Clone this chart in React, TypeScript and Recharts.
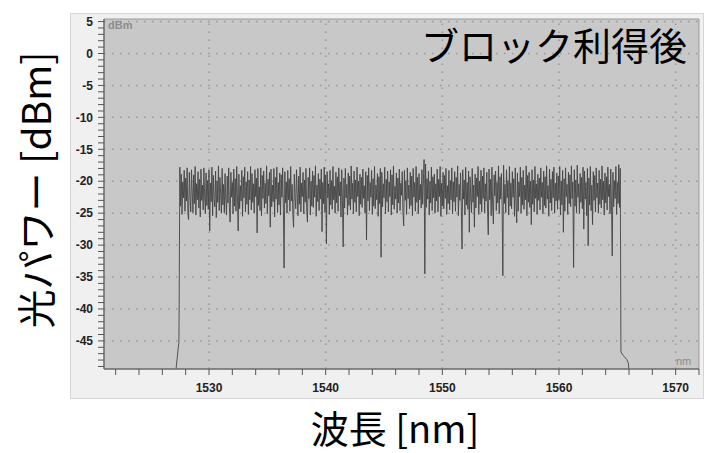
import React from "react";
import { LineChart, Line, XAxis, YAxis, CartesianGrid, ReferenceLine } from "recharts";

// ---- axis ticks / labels ----
const xMajorTicks = [1530, 1540, 1550, 1560, 1570];
const yMajorTicks = [5, 0, -5, -10, -15, -20, -25, -30, -35, -40, -45];
const xDomain: [number, number] = [1521, 1572];
const yDomain: [number, number] = [-49.4, 5.4];
const xMinorTicks = Array.from({ length: 26 }, (_, i) => 1522 + i * 2);
const yMinorTicks = Array.from({ length: 55 }, (_, i) => 5 - i);

// ---- spectrum (OSA trace) ----
const edgeLeftWl = [1527.17, 1527.37, 1527.42, 1527.44];
const edgeLeftDbm = [-49.5, -46.0, -45.3, -40.0];

const bodyStartWl = 1527.5;
const bodyStepWl = 0.0625;
const bodyDbm = [
  -17.8, -23.9, -18.9, -25.2, -20.1, -22.6, -18.3, -24.7, -19.5, -23.1, -17.9, -25.0, -26.0, -18.6, -22.4, -24.8,
  -18.2, -21.7, -24.9, -19.0, -23.5, -17.7, -25.3, -20.4, -22.9, -18.5, -24.2, -19.7, -25.6, -18.1, -23.0, -20.6,
  -24.5, -17.9, -22.3, -25.1, -18.7, -23.8, -19.9, -24.4, -18.2, -27.8, -20.3, -23.2, -17.8, -25.4, -19.1, -22.7,
  -24.0, -18.4, -25.7, -20.0, -23.3, -17.6, -24.6, -19.4, -22.1, -25.0, -18.0, -23.7, -20.5, -24.9, -18.8, -22.8,
  -25.3, -19.2, -23.4, -17.9, -24.1, -26.4, -18.6, -22.5, -20.2, -25.1, -18.1, -23.9, -19.6, -24.7, -17.7, -22.2,
  -27.8, -18.9, -24.3, -20.7, -23.1, -18.3, -25.5, -19.3, -22.6, -17.8, -24.8, -20.1, -23.6, -18.5, -25.2, -19.8,
  -22.9, -17.7, -24.5, -18.8, -23.3, -20.4, -25.0, -18.2, -22.4, -19.5, -28.1, -18.0, -23.8, -20.9, -24.6, -17.9,
  -25.4, -19.1, -22.7, -18.4, -24.2, -20.3, -23.5, -17.6, -25.1, -19.7, -22.3, -18.6, -27.2, -18.1, -24.0, -20.6,
  -23.2, -18.0, -25.6, -19.4, -22.8, -17.8, -24.9, -20.2, -23.7, -18.7, -25.3, -19.0, -22.5, -17.9, -24.4, -33.6,
  -18.5, -23.4, -20.1, -25.0, -18.3, -22.9, -19.6, -24.7, -17.7, -23.1, -20.5, -25.2, -27.2, -18.9, -22.6, -24.3,
  -18.2, -21.9, -25.4, -19.2, -23.6, -17.8, -24.8, -20.3, -22.4, -18.6, -25.1, -19.8, -23.3, -18.0, -24.5, -26.4,
  -19.4, -22.7, -17.9, -25.3, -20.0, -23.9, -18.4, -24.1, -19.1, -22.5, -17.6, -25.5, -20.6, -23.2, -18.8, -24.6,
  -19.7, -22.8, -18.1, -27.9, -20.2, -23.5, -17.8, -24.9, -19.0, -29.8, -18.5, -22.6, -20.4, -25.2, -18.3, -23.7,
  -19.9, -24.4, -17.7, -22.9, -20.8, -25.0, -18.6, -23.4, -19.3, -24.7, -17.9, -22.3, -20.1, -25.6, -18.2, -23.0,
  -30.3, -19.5, -24.2, -18.0, -22.6, -20.5, -25.3, -18.7, -23.8, -19.2, -24.5, -17.6, -22.8, -20.3, -25.1, -18.4,
  -23.3, -19.8, -24.8, -17.8, -22.4, -20.0, -25.4, -18.9, -23.6, -19.4, -24.1, -18.1, -22.7, -20.7, -25.0, -18.5,
  -29.2, -19.1, -23.1, -17.9, -24.6, -20.2, -22.5, -18.3, -25.2, -19.6, -23.9, -17.7, -24.3, -20.6, -22.9, -18.8,
  -25.5, -19.3, -23.5, -18.0, -31.9, -18.6, -24.0, -20.4, -22.6, -17.8, -25.1, -19.7, -23.2, -18.4, -24.8, -20.1,
  -22.4, -18.2, -25.3, -19.0, -23.7, -17.6, -24.4, -20.8, -22.8, -18.7, -25.0, -19.5, -23.4, -18.1, -24.6, -20.3,
  -22.2, -18.5, -24.9, -27.0, -18.3, -23.0, -19.9, -25.2, -17.9, -22.7, -20.6, -24.3, -18.6, -23.8, -19.2, -25.4,
  -18.0, -22.5, -20.2, -24.7, -17.7, -23.3, -19.4, -25.1, -18.8, -22.9, -20.5, -24.2, -18.2, -23.6, -19.8, -16.6,
  -34.5, -17.3, -24.1, -19.6, -22.8, -18.4, -25.3, -20.0, -23.4, -17.8, -24.6, -19.3, -22.6, -18.9, -25.0, -20.4,
  -23.1, -18.1, -24.8, -19.7, -22.4, -17.7, -25.5, -20.3, -23.9, -18.6, -24.3, -19.1, -22.7, -18.0, -25.2, -20.7,
  -23.5, -18.3, -24.5, -19.9, -22.9, -17.9, -25.1, -20.1, -23.2, -18.5, -24.7, -19.4, -22.5, -17.6, -25.4, -20.5,
  -23.0, -18.7, -24.0, -30.6, -18.2, -22.8, -19.8, -25.3, -17.8, -23.7, -20.2, -24.4, -18.4, -28.0, -19.3, -22.6,
  -24.9, -18.0, -23.3, -20.6, -27.2, -18.9, -24.2, -19.5, -22.4, -17.7, -25.2, -20.0, -23.6, -18.3, -24.8, -19.2,
  -22.7, -17.9, -25.0, -20.4, -23.1, -18.6, -24.5, -28.4, -18.1, -22.9, -19.7, -25.4, -17.8, -23.8, -26.7, -19.0,
  -22.3, -18.4, -24.6, -20.2, -23.4, -17.6, -25.1, -19.3, -22.8, -18.8, -24.0, -34.8, -17.5, -23.5, -20.5, -24.9,
  -18.2, -22.6, -19.9, -25.3, -17.7, -23.9, -20.3, -24.3, -18.5, -22.5, -19.6, -25.5, -17.9, -23.2, -26.5, -18.7,
  -24.7, -20.1, -22.4, -17.8, -25.0, -19.4, -23.7, -18.3, -24.4, -20.6, -22.9, -17.6, -25.4, -19.1, -23.3, -18.6,
  -24.1, -20.0, -26.8, -18.2, -23.6, -19.8, -24.8, -17.7, -22.7, -20.4, -25.2, -18.9, -23.0, -19.5, -24.5, -17.9,
  -22.5, -20.2, -25.1, -18.4, -23.8, -19.3, -24.2, -17.6, -22.8, -20.7, -25.5, -18.1, -23.4, -19.7, -24.6, -18.5,
  -22.6, -17.8, -25.0, -20.3, -23.1, -18.7, -24.4, -19.2, -22.9, -17.7, -25.3, -20.0, -23.7, -18.3, -28.0, -19.6,
  -24.7, -17.9, -22.4, -20.5, -25.2, -18.6, -23.5, -19.0, -24.0, -17.6, -22.7, -20.1, -33.5, -18.2, -23.9, -19.8,
  -24.9, -17.5, -22.5, -20.4, -25.1, -18.8, -23.3, -19.4, -24.3, -17.8, -27.5, -18.4, -22.8, -20.2, -25.4, -18.0,
  -30.1, -19.5, -23.7, -17.7, -24.6, -20.6, -26.8, -18.5, -23.0, -19.1, -24.8, -17.9, -22.6, -20.3, -25.0, -18.3,
  -23.6, -19.7, -24.2, -17.6, -22.9, -20.0, -25.3, -18.7, -23.4, -19.3, -24.5, -17.8, -22.4, -20.5, -25.1, -18.1,
  -23.8, -31.7, -18.6, -24.0, -19.9, -22.7, -17.7, -25.2, -20.2, -23.5, -17.4, -24.1, -18.0,
];

const edgeRightWl = [1565.31, 1565.45, 1565.62, 1565.8, 1565.95, 1565.98];
const edgeRightDbm = [-46.7, -47.2, -47.5, -47.9, -48.5, -49.5];

const data: { wl: number; p: number }[] = [];
edgeLeftWl.forEach((w, i) => data.push({ wl: w, p: edgeLeftDbm[i] }));
bodyDbm.forEach((v, i) => data.push({ wl: bodyStartWl + i * bodyStepWl, p: v }));
edgeRightWl.forEach((w, i) => data.push({ wl: w, p: edgeRightDbm[i] }));

const titleText = "ブロック利得後";
const yLabelText = "光パワー [dBm]";
const xLabelText = "波長 [nm]";

const tickFont = "'Liberation Sans', Arial, sans-serif";
const jpFont = "'Noto Sans CJK JP', 'Noto Sans', sans-serif";

const XTick = (props: any) => {
  const { x, y, payload } = props;
  const v = payload.value;
  if (!xMajorTicks.includes(v)) return null;
  return (
    <text x={x} y={y} dy="0.71em" textAnchor="middle" fontSize={12} fontWeight={700} fill="#222" fontFamily={tickFont}>
      {v}
    </text>
  );
};

const YTick = (props: any) => {
  const { x, y, payload } = props;
  const v = payload.value;
  if (!yMajorTicks.includes(v)) return null;
  return (
    <text x={x} y={y} dy="0.355em" textAnchor="end" fontSize={12} fontWeight={700} fill="#222" fontFamily={tickFont}>
      {v}
    </text>
  );
};

export default function App() {
  return (
    <div style={{ position: "absolute", left: 0, top: 0, width: 704, height: 453, background: "#fff" }}>
      <div
        style={{
          position: "absolute",
          left: 70,
          top: 13,
          width: 632,
          height: 384,
          background: "#f0f0f0",
          border: "1px solid #d6d6d6",
        }}
      />
      <div style={{ position: "absolute", left: 0, top: 0 }}>
        <LineChart width={704} height={453} data={data} margin={{ top: 19, right: 5, left: 70, bottom: 54 }}>
          <CartesianGrid fill="#c8c8c8" horizontal={false} vertical={false} />
          {xMajorTicks.map((t) => (
            <ReferenceLine key={"gx" + t} x={t} stroke="#999" strokeWidth={1.5} strokeDasharray="1.5 6.5" />
          ))}
          {yMajorTicks.map((t) => (
            <ReferenceLine key={"gy" + t} y={t} stroke="#999" strokeWidth={1.5} strokeDasharray="1.5 6.5" />
          ))}
          <ReferenceLine y={yDomain[1]} stroke="#9a9a9a" strokeWidth={1} />
          <ReferenceLine x={xDomain[1]} stroke="#9a9a9a" strokeWidth={1} />
          <XAxis
            dataKey="wl"
            type="number"
            domain={xDomain}
            allowDataOverflow
            ticks={xMinorTicks}
            interval={0}
            height={30}
            tickSize={6}
            tickMargin={8}
            axisLine={{ stroke: "#6a6a6a", strokeWidth: 1.5 }}
            tickLine={{ stroke: "#555" }}
            tick={<XTick />}
          />
          <YAxis
            type="number"
            domain={yDomain}
            allowDataOverflow
            ticks={yMinorTicks}
            interval={0}
            width={34}
            tickSize={6}
            tickMargin={5}
            axisLine={{ stroke: "#6a6a6a", strokeWidth: 1.5 }}
            tickLine={{ stroke: "#555" }}
            tick={<YTick />}
          />
          <Line
            dataKey="p"
            type="linear"
            stroke="#444"
            strokeWidth={0.9}
            dot={false}
            isAnimationActive={false}
          />
        </LineChart>
      </div>
      <svg
        width={704}
        height={453}
        style={{ position: "absolute", left: 0, top: 0, pointerEvents: "none" }}
      >
        <text x={108} y={29} fontSize={11} fontWeight={700} fill="#8c8c8c" fontFamily={tickFont}>
          dBm
        </text>
        <text x={676} y={365} fontSize={11} fill="#8c8c8c" fontFamily={tickFont}>
          nm
        </text>
        <text x={687} y={60} fontSize={38} textAnchor="end" fill="#000" fontFamily={jpFont}>
          {titleText}
        </text>
        <text
          x={0}
          y={0}
          fontSize={39}
          textAnchor="middle"
          dominantBaseline="central"
          fill="#000"
          fontFamily={jpFont}
          transform="translate(34,190) rotate(-90)"
        >
          {yLabelText}
        </text>
        <text x={395} y={443} fontSize={38} textAnchor="middle" fill="#000" fontFamily={jpFont}>
          {xLabelText}
        </text>
      </svg>
    </div>
  );
}
